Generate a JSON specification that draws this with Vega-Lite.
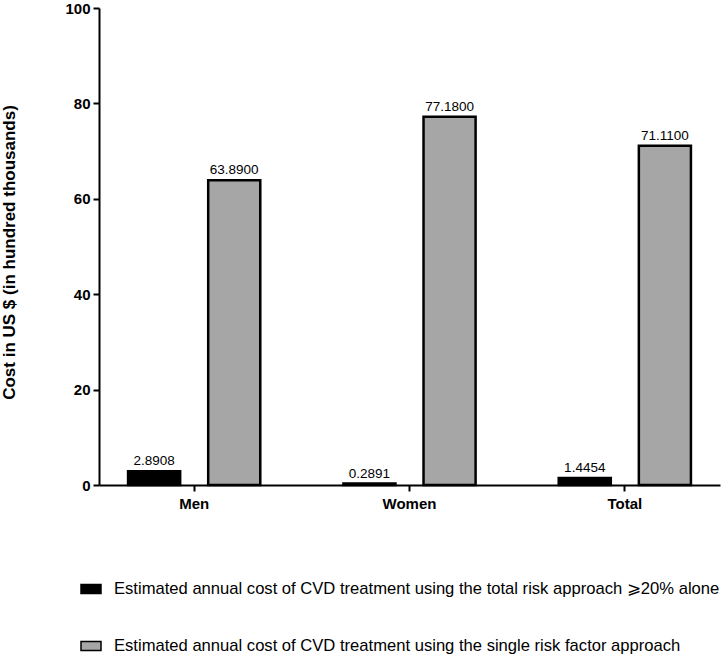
{
  "$schema": "https://vega.github.io/schema/vega-lite/v6.json",
  "width": 621,
  "height": 477,
  "autosize": {"type": "none"},
  "padding": {"left": 99, "top": 8, "right": 2, "bottom": 170},
  "background": "white",
  "config": {
    "view": {"stroke": null},
    "font": "Liberation Sans",
    "axis": {"domainColor": "black", "domainWidth": 2, "tickColor": "black", "tickWidth": 2, "tickSize": 6, "grid": false, "labelColor": "black", "labelFont": "Liberation Sans", "labelFontWeight": "bold", "labelFontSize": 15, "titleColor": "black", "titleFont": "Liberation Sans"}
  },
  "data": {
    "values": [
      {"group": "Men", "approach": "Estimated annual cost of CVD treatment using the total risk approach ⩾20% alone", "cost": 2.8908},
      {"group": "Men", "approach": "Estimated annual cost of CVD treatment using the single risk factor approach", "cost": 63.89},
      {"group": "Women", "approach": "Estimated annual cost of CVD treatment using the total risk approach ⩾20% alone", "cost": 0.2891},
      {"group": "Women", "approach": "Estimated annual cost of CVD treatment using the single risk factor approach", "cost": 77.18},
      {"group": "Total", "approach": "Estimated annual cost of CVD treatment using the total risk approach ⩾20% alone", "cost": 1.4454},
      {"group": "Total", "approach": "Estimated annual cost of CVD treatment using the single risk factor approach", "cost": 71.11}
    ]
  },
  "encoding": {
    "x": {
      "field": "group", "type": "nominal", "sort": ["Men", "Women", "Total"],
      "scale": {"paddingInner": 0.2, "paddingOuter": 0.042},
      "axis": {"title": null, "labelAngle": 0, "labelPadding": 5}
    },
    "xOffset": {
      "field": "approach", "type": "nominal",
      "sort": ["Estimated annual cost of CVD treatment using the total risk approach ⩾20% alone", "Estimated annual cost of CVD treatment using the single risk factor approach"],
      "scale": {"paddingInner": 0.35, "paddingOuter": 0.25}
    },
    "y": {
      "field": "cost", "type": "quantitative",
      "scale": {"domain": [0, 100], "nice": false},
      "axis": {"values": [0, 20, 40, 60, 80, 100], "title": "Cost in US $ (in hundred thousands)", "titleFontSize": 17, "titleFontWeight": "bold", "titleX": -90, "titleY": 244, "titleAngle": -90, "titleBaseline": "middle", "titleAlign": "center", "labelPadding": 3}
    }
  },
  "layer": [
    {
      "mark": {"type": "bar", "stroke": "black", "strokeWidth": 2.5},
      "encoding": {
        "color": {
          "field": "approach", "type": "nominal",
          "scale": {"domain": ["Estimated annual cost of CVD treatment using the total risk approach ⩾20% alone", "Estimated annual cost of CVD treatment using the single risk factor approach"], "range": ["black", "#a6a6a6"]},
          "legend": {"title": null, "orient": "none", "legendX": -19, "legendY": 570, "padding": 0, "direction": "vertical", "symbolType": "M-1,-0.45H1V0.45H-1Z", "symbolSize": 400, "symbolStrokeColor": "black", "symbolStrokeWidth": 1.5, "symbolOpacity": 1, "labelFontSize": 16.6, "labelFont": "Liberation Sans", "labelColor": "black", "labelLimit": 0, "labelOffset": 12, "rowPadding": 37}
        }
      }
    },
    {
      "mark": {"type": "text", "dy": -6, "fontSize": 13.5, "font": "Liberation Sans", "color": "black", "baseline": "alphabetic"},
      "encoding": {
        "text": {"field": "cost", "type": "quantitative", "format": ".4f"}
      }
    }
  ]
}
